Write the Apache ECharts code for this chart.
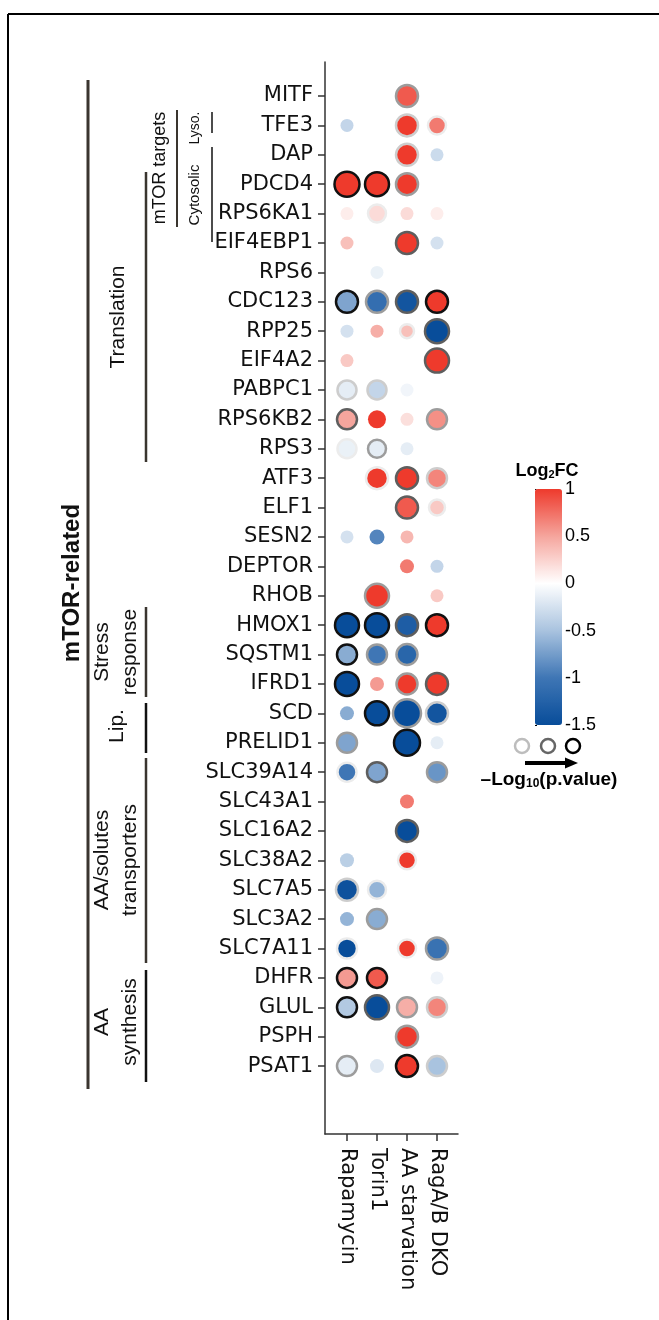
<!DOCTYPE html>
<html>
<head>
<meta charset="utf-8">
<script src="https://cdn.jsdelivr.net/npm/echarts@6/dist/echarts.min.js"></script>
<style>
  html, body { margin: 0; padding: 0; background: #fff; }
  #chart { width: 659px; height: 1320px; }
</style>
</head>
<body>
<div id="chart"></div>
<script>
const genes = ['MITF', 'TFE3', 'DAP', 'PDCD4', 'RPS6KA1', 'EIF4EBP1', 'RPS6', 'CDC123', 'RPP25',
  'EIF4A2', 'PABPC1', 'RPS6KB2', 'RPS3', 'ATF3', 'ELF1', 'SESN2', 'DEPTOR', 'RHOB', 'HMOX1',
  'SQSTM1', 'IFRD1', 'SCD', 'PRELID1', 'SLC39A14', 'SLC43A1', 'SLC16A2', 'SLC38A2', 'SLC7A5',
  'SLC3A2', 'SLC7A11', 'DHFR', 'GLUL', 'PSPH', 'PSAT1'];
const treatments = ['Rapamycin', 'Torin1', 'AA starvation', 'RagA/B DKO'];
const fcTicks = [-1.5, -1, -0.5, 0, 0.5, 1];

// [gene, log2FC, -log10(p), significance level 0-5]
const rapamycin = [
  ['TFE3', -0.35, 0.5, 0], ['PDCD4', 1.0, 6.5, 5], ['RPS6KA1', 0.1, 0.5, 0],
  ['EIF4EBP1', 0.35, 0.5, 0], ['CDC123', -0.7, 5, 5], ['RPP25', -0.25, 0.5, 0],
  ['EIF4A2', 0.3, 0.5, 0], ['PABPC1', -0.15, 3.5, 2], ['RPS6KB2', 0.5, 4, 4],
  ['RPS3', -0.12, 3.5, 1], ['SESN2', -0.25, 0.5, 0], ['HMOX1', -1.5, 6, 5],
  ['SQSTM1', -0.65, 4, 5], ['IFRD1', -1.5, 6, 5], ['SCD', -0.65, 1, 0],
  ['PRELID1', -0.7, 4, 3], ['SLC39A14', -1.0, 3.5, 1], ['SLC38A2', -0.4, 1, 0],
  ['SLC7A5', -1.45, 5, 2], ['SLC3A2', -0.6, 1, 0], ['SLC7A11', -1.5, 4, 1],
  ['DHFR', 0.55, 4, 5], ['GLUL', -0.45, 4, 5], ['PSAT1', -0.15, 4, 3]
];
const torin1 = [
  ['PDCD4', 1.0, 6, 5], ['RPS6KA1', 0.2, 3, 1], ['RPS6', -0.12, 0.5, 0],
  ['CDC123', -1.1, 5, 3], ['RPP25', 0.45, 0.5, 0], ['PABPC1', -0.35, 3.5, 2],
  ['RPS6KB2', 1.0, 3, 0], ['RPS3', -0.15, 3, 3], ['ATF3', 1.0, 5, 1],
  ['SESN2', -0.9, 1.5, 0], ['RHOB', 1.0, 6, 3], ['HMOX1', -1.5, 6, 5],
  ['SQSTM1', -1.0, 4, 3], ['IFRD1', 0.55, 1, 0], ['SCD', -1.5, 6, 5],
  ['SLC39A14', -0.7, 4, 4], ['SLC7A5', -0.6, 3, 1], ['SLC3A2', -0.65, 4, 3],
  ['DHFR', 0.85, 4, 5], ['GLUL', -1.5, 6, 4], ['PSAT1', -0.2, 1, 0]
];
const aaStarvation = [
  ['MITF', 0.85, 5, 3], ['TFE3', 1.0, 5, 2], ['DAP', 1.0, 5, 2], ['PDCD4', 1.0, 5, 3],
  ['RPS6KA1', 0.2, 0.5, 0], ['EIF4EBP1', 1.0, 5, 4], ['CDC123', -1.4, 5, 4],
  ['RPP25', 0.35, 1, 1], ['PABPC1', -0.08, 0.5, 0], ['RPS6KB2', 0.18, 0.5, 0],
  ['RPS3', -0.15, 0.5, 0], ['ATF3', 1.0, 5, 4], ['ELF1', 0.85, 5, 4],
  ['SESN2', 0.4, 0.5, 0], ['DEPTOR', 0.7, 1, 0], ['HMOX1', -1.3, 5, 4],
  ['SQSTM1', -1.2, 4.5, 3], ['IFRD1', 1.0, 4.5, 3], ['SCD', -1.5, 8, 3],
  ['PRELID1', -1.5, 7, 5], ['SLC43A1', 0.7, 1, 0], ['SLC16A2', -1.5, 5, 4],
  ['SLC38A2', 1.0, 3, 1], ['SLC7A11', 1.0, 3, 1], ['GLUL', 0.45, 4, 3],
  ['PSPH', 1.0, 5, 3], ['PSAT1', 1.0, 5, 5]
];
const ragDKO = [
  ['TFE3', 0.7, 3, 1], ['DAP', -0.3, 0.5, 0], ['RPS6KA1', 0.1, 0.5, 0],
  ['EIF4EBP1', -0.25, 0.5, 0], ['CDC123', 1.0, 5, 5], ['RPP25', -1.55, 6, 4],
  ['EIF4A2', 1.0, 6, 4], ['RPS6KB2', 0.6, 4, 3], ['ATF3', 0.65, 4, 2],
  ['ELF1', 0.3, 2, 1], ['DEPTOR', -0.35, 0.5, 0], ['RHOB', 0.3, 0.5, 0],
  ['HMOX1', 1.0, 5, 5], ['IFRD1', 1.0, 5, 4], ['SCD', -1.4, 5, 2],
  ['PRELID1', -0.15, 0.5, 0], ['SLC39A14', -0.8, 4, 3], ['SLC7A11', -1.05, 5, 3],
  ['DHFR', -0.1, 0.5, 0], ['GLUL', 0.65, 4, 2], ['PSAT1', -0.5, 4, 2]
];

const ringColors = [null, '#ececec', '#cdcdcd', '#9c9c9c', '#5e5e5e', '#111111'];
const fcColors = ['#084d9a', '#3f76b5', '#a9c3df', '#ffffff', '#f5a59d', '#ee3a2c'];
const annoFont = 'Liberation Sans, Arial, sans-serif';
const axisFont = 'DejaVu Sans, sans-serif';

function toPoints(rows, col) {
  return rows.map(([g, fc, nlp, sig]) => ({
    value: [col, genes.indexOf(g), fc, nlp, sig],
    symbolSize: 12 + 2 * nlp,
    itemStyle: sig ? {borderColor: ringColors[sig], borderWidth: 2.5} : {borderWidth: 0}
  }));
}

const columns = [rapamycin, torin1, aaStarvation, ragDKO];
const series = columns.map((rows, i) => ({
  name: treatments[i],
  type: 'scatter',
  xAxisIndex: 0,
  yAxisIndex: 0,
  itemStyle: {opacity: 1},
  data: toPoints(rows, i)
}));

function vline(x, y1, y2, w, color) {
  return {type: 'line', shape: {x1: x, y1: y1, x2: x, y2: y2},
    style: {stroke: color || '#3a352f', lineWidth: w}};
}
function vtext(x, y, text, size, bold) {
  return {type: 'text', x: x, y: y, rotation: Math.PI / 2,
    style: {text: text, font: (bold ? 'bold ' : '') + size + 'px ' + annoFont,
      textAlign: 'center', textVerticalAlign: 'middle', fill: '#111', lineHeight: 28}};
}

let chart = echarts.init(document.getElementById('chart'));
let option = {
  animation: false,
  grid: [
    {left: 325, top: 62, width: 133, height: 1072},
    {left: 535, top: 489, width: 27, height: 236}
  ],
  xAxis: [
    {
      type: 'value', gridIndex: 0, min: -0.733, max: 3.7,
      axisLine: {onZero: false, lineStyle: {color: '#333', width: 1.5}},
      axisTick: {customValues: [0, 1, 2, 3], length: 7, lineStyle: {color: '#333', width: 1.5}},
      axisLabel: {
        customValues: [0, 1, 2, 3], rotate: -90, margin: 14,
        fontFamily: axisFont, fontSize: 21, color: '#111',
        formatter: v => treatments[v]
      },
      splitLine: {show: false}
    },
    {type: 'value', gridIndex: 1, show: false, min: 0, max: 1}
  ],
  yAxis: [
    {
      type: 'value', gridIndex: 0, inverse: true, min: -1.157, max: 35.31,
      axisLine: {show: true, onZero: false, lineStyle: {color: '#333', width: 1.5}},
      axisTick: {show: true, customValues: genes.map((g, i) => i), length: 7,
        lineStyle: {color: '#333', width: 1.5}},
      axisLabel: {
        customValues: genes.map((g, i) => i), margin: 12,
        fontFamily: axisFont, fontSize: 21, color: '#111',
        formatter: v => genes[v]
      },
      splitLine: {show: false}
    },
    {
      type: 'value', gridIndex: 1, position: 'right', min: fcTicks[0], max: fcTicks[fcTicks.length - 1],
      interval: 0.5,
      axisLine: {show: false},
      axisTick: {show: true, length: 2, lineStyle: {color: '#000'}},
      axisLabel: {margin: 3, fontFamily: annoFont, fontSize: 18, color: '#000'},
      splitLine: {show: false}
    }
  ],
  visualMap: {
    type: 'continuous', min: fcTicks[0], max: fcTicks[fcTicks.length - 1],
    dimension: 2, seriesIndex: [0, 1, 2, 3],
    inRange: {color: fcColors},
    orient: 'vertical', left: 535, top: 489, itemWidth: 27, itemHeight: 236,
    padding: 0, calculable: false, hoverLink: false
  },
  series: series,
  graphic: [
    // frame
    {type: 'line', shape: {x1: 8, y1: 14, x2: 659, y2: 14}, style: {stroke: '#000', lineWidth: 2}},
    {type: 'line', shape: {x1: 8, y1: 14, x2: 8, y2: 1320}, style: {stroke: '#000', lineWidth: 2}},
    // brackets
    vline(88, 80, 1089, 3),
    vline(146, 172, 462, 2.5),
    vline(177, 110, 227, 2),
    vline(212, 112, 133, 1.5, '#111'),
    vline(212, 147, 242, 1.5, '#111'),
    vline(146, 607, 697, 2.5),
    vline(146, 703, 753, 2.5, '#111'),
    vline(146, 758, 963, 2.5),
    vline(146, 970, 1082, 2.5, '#111'),
    // group labels
    vtext(72, 583, 'mTOR-related', 24, true),
    vtext(118, 317, 'Translation', 21),
    vtext(160, 168, 'mTOR targets', 18),
    vtext(195, 128, 'Lyso.', 14),
    vtext(195, 195, 'Cytosolic', 15),
    vtext(116, 652, 'Stress\nresponse', 21),
    vtext(117, 726, 'Lip.', 21),
    vtext(116, 860, 'AA/solutes\ntransporters', 21),
    vtext(116, 1022, 'AA\nsynthesis', 21),
    // colour legend title
    {type: 'text', x: 547, y: 470, style: {
      text: '{a|Log}{s|2}{a|FC}', textAlign: 'center', textVerticalAlign: 'middle',
      rich: {
        a: {fontFamily: annoFont, fontWeight: 'bold', fontSize: 18, lineHeight: 20, verticalAlign: 'bottom'},
        s: {fontFamily: annoFont, fontWeight: 'bold', fontSize: 11, lineHeight: 11, verticalAlign: 'bottom'}
      }
    }},
    // p-value legend
    {type: 'circle', shape: {cx: 522, cy: 746, r: 7}, style: {fill: 'none', stroke: '#bdbdbd', lineWidth: 2.5}},
    {type: 'circle', shape: {cx: 548, cy: 746, r: 7}, style: {fill: 'none', stroke: '#666', lineWidth: 2.5}},
    {type: 'circle', shape: {cx: 573, cy: 746, r: 7}, style: {fill: 'none', stroke: '#000', lineWidth: 2.5}},
    {type: 'line', shape: {x1: 525, y1: 763, x2: 566, y2: 763}, style: {stroke: '#000', lineWidth: 4}},
    {type: 'polygon', shape: {points: [[565, 757.5], [578, 763], [565, 768.5]]}, style: {fill: '#000'}},
    {type: 'text', x: 549, y: 779, style: {
      text: '{a|–Log}{s|10}{a|(p.value)}', textAlign: 'center', textVerticalAlign: 'middle',
      rich: {
        a: {fontFamily: annoFont, fontWeight: 'bold', fontSize: 19, lineHeight: 21, verticalAlign: 'bottom'},
        s: {fontFamily: annoFont, fontWeight: 'bold', fontSize: 12, lineHeight: 12, verticalAlign: 'bottom'}
      }
    }}
  ]
};
chart.setOption(option);
</script>
</body>
</html>
